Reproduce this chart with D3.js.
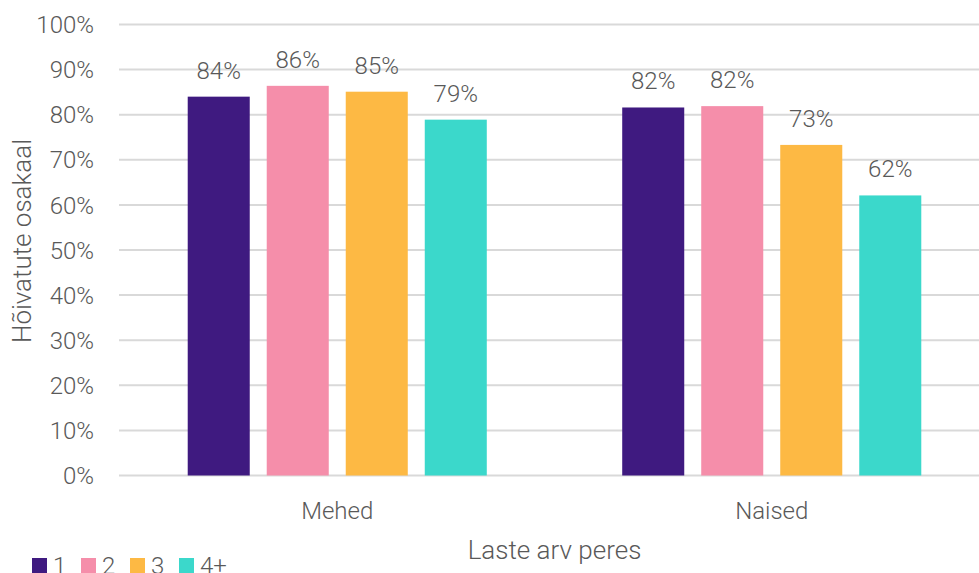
<!DOCTYPE html>
<html>
<head>
<meta charset="utf-8">
<script src="https://cdn.jsdelivr.net/npm/d3@7"></script>
<style>
  body { margin: 0; background: #fff; }
  svg text { font-family: Roboto, "Noto Sans", sans-serif; font-weight: 300; fill: #595959; }
</style>
</head>
<body>
<div id="chart"></div>
<script>
// Data
const groups = ['Mehed', 'Naised'];
const series = ['1', '2', '3', '4+'];
const colors = ['#3f1a80', '#f58eaa', '#fdb944', '#3bd8cb'];
const valuesMehed = [84.0, 86.4, 85.1, 78.9];
const valuesNaised = [81.6, 81.9, 73.3, 62.1];
const labelsMehed = ['84%', '86%', '85%', '79%'];
const labelsNaised = ['82%', '82%', '73%', '62%'];
const yTicks = [0, 10, 20, 30, 40, 50, 60, 70, 80, 90, 100];

const W = 979, H = 573;
const plot = { left: 120, right: 989, top: 24.5, bottom: 475.5 };

const svg = d3.select('#chart')
    .append('svg')
    .attr('width', W)
    .attr('height', H);

// Scales
const x0 = d3.scaleBand()
    .domain(groups)
    .range([plot.left, plot.right])
    .padding(0);
const x1 = d3.scaleBand()
    .domain(series)
    .range([0, x0.bandwidth()])
    .paddingInner(0.215)
    .paddingOuter(0.857);
const y = d3.scaleLinear()
    .domain([0, 100])
    .range([plot.bottom, plot.top]);
const color = d3.scaleOrdinal().domain(series).range(colors);

// Gridlines
svg.append('g')
    .selectAll('line')
    .data(yTicks)
    .enter().append('line')
    .attr('x1', 119)
    .attr('x2', W)
    .attr('y1', d => y(d))
    .attr('y2', d => y(d))
    .attr('stroke', '#d9d9d9')
    .attr('stroke-width', 2);

// Y tick labels
svg.append('g')
    .selectAll('text')
    .data(yTicks)
    .enter().append('text')
    .attr('x', 94)
    .attr('y', d => y(d))
    .attr('dy', '0.36em')
    .attr('text-anchor', 'end')
    .attr('font-size', 24)
    .text(d => d + '%');

// Bars
const rows = [
    { group: 'Mehed', values: valuesMehed, labels: labelsMehed },
    { group: 'Naised', values: valuesNaised, labels: labelsNaised }
];
const g = svg.selectAll('.grp')
    .data(rows)
    .enter().append('g')
    .attr('class', 'grp')
    .attr('transform', d => `translate(${x0(d.group)},0)`);

const cells = d => d.values.map((v, i) => ({ key: series[i], v: v, label: d.labels[i] }));

g.selectAll('rect')
    .data(cells)
    .enter().append('rect')
    .attr('x', d => x1(d.key))
    .attr('y', d => y(d.v))
    .attr('width', x1.bandwidth())
    .attr('height', d => y(0) - y(d.v))
    .attr('fill', d => color(d.key));

g.selectAll('.val')
    .data(cells)
    .enter().append('text')
    .attr('class', 'val')
    .attr('x', d => x1(d.key) + x1.bandwidth() / 2)
    .attr('y', d => y(d.v) - 18)
    .attr('text-anchor', 'middle')
    .attr('font-size', 24)
    .text(d => d.label);

// Category labels
svg.selectAll('.cat')
    .data(groups)
    .enter().append('text')
    .attr('class', 'cat')
    .attr('x', d => x0(d) + x0.bandwidth() / 2)
    .attr('y', 519)
    .attr('text-anchor', 'middle')
    .attr('font-size', 24)
    .text(d => d);

// Axis titles
svg.append('text')
    .attr('x', (plot.left + plot.right) / 2)
    .attr('y', 559)
    .attr('text-anchor', 'middle')
    .attr('font-size', 26)
    .text('Laste arv peres');

svg.append('text')
    .attr('transform', 'translate(31,241) rotate(-90)')
    .attr('text-anchor', 'middle')
    .attr('font-size', 26)
    .text('Hõivatute osakaal');

// Legend (cut off at the bottom edge, as in the source image)
const leg = svg.selectAll('.leg')
    .data(series)
    .enter().append('g')
    .attr('class', 'leg')
    .attr('transform', (d, i) => `translate(${32 + i * 49},558)`);
leg.append('rect')
    .attr('width', 15)
    .attr('height', 15)
    .attr('fill', d => color(d));
leg.append('text')
    .attr('x', 21)
    .attr('y', 16)
    .attr('font-size', 24)
    .text(d => d);
</script>
</body>
</html>
